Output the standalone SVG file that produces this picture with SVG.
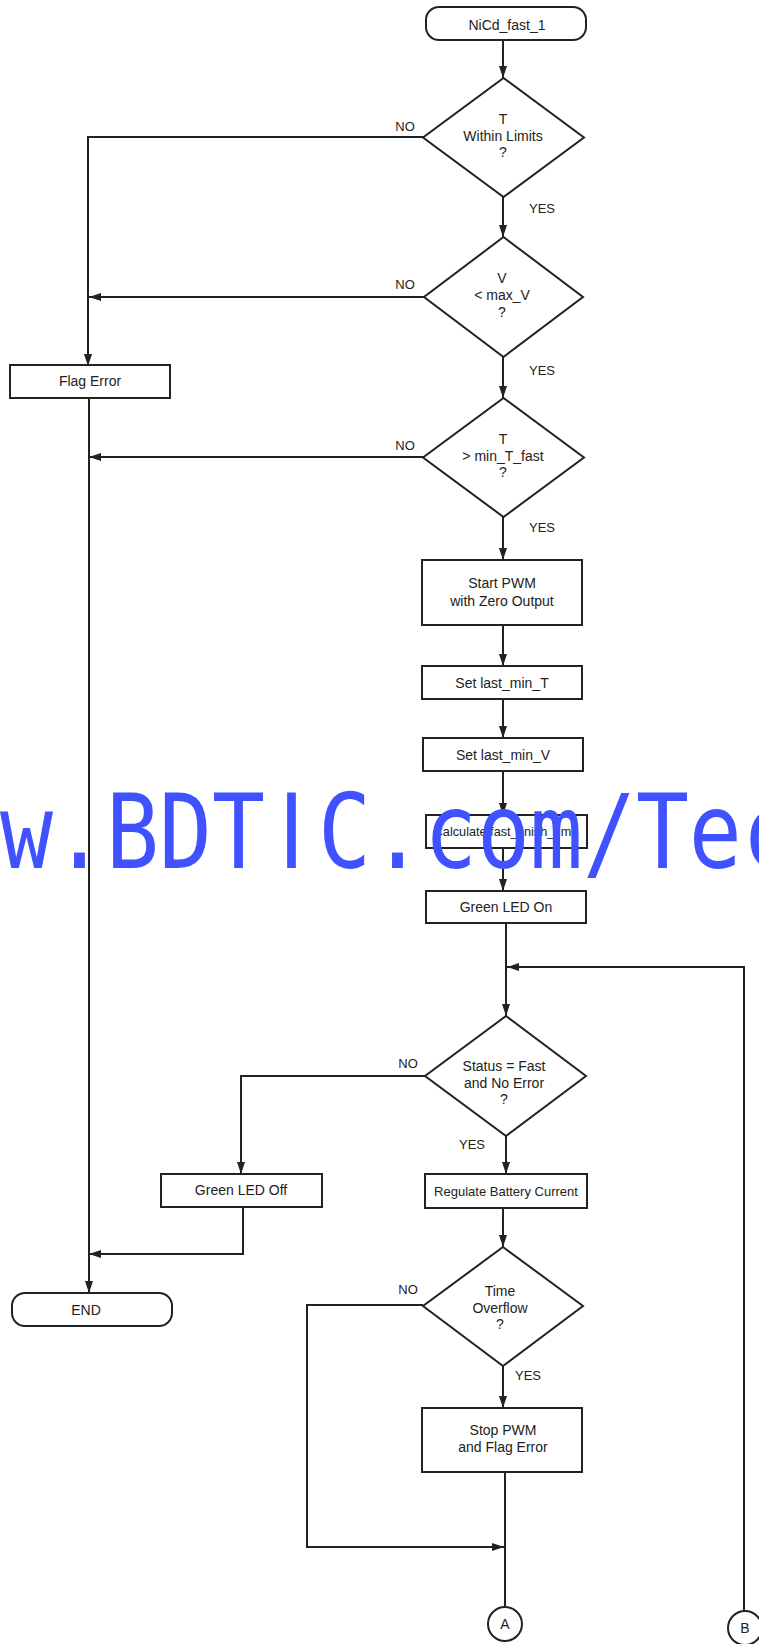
<svg xmlns="http://www.w3.org/2000/svg" width="759" height="1644" viewBox="0 0 759 1644">
<defs>
<marker id="ah" markerWidth="12" markerHeight="8" refX="12" refY="4" orient="auto" markerUnits="userSpaceOnUse">
<path d="M0,0 L12,4 L0,8 z" fill="#222"/>
</marker>
<style>
.n{fill:#fff;stroke:#222;stroke-width:2}
.c{fill:none;stroke:#222;stroke-width:2}
.t{font-family:"Liberation Sans",Arial,sans-serif;font-size:14px;fill:#222;text-anchor:middle}
.l{font-family:"Liberation Sans",Arial,sans-serif;font-size:13px;fill:#222;text-anchor:middle}
.wm{font-family:"DejaVu Sans Mono",monospace;font-size:104px;fill:#4052ff;text-anchor:middle}
</style>
</defs>
<rect width="759" height="1644" fill="#fff"/>

<g id="connectors">
<path class="c" d="M503,40 V78" marker-end="url(#ah)"/>
<path class="c" d="M503,197 V237" marker-end="url(#ah)"/>
<path class="c" d="M503,357 V398" marker-end="url(#ah)"/>
<path class="c" d="M503,517 V560" marker-end="url(#ah)"/>
<path class="c" d="M503,625 V666" marker-end="url(#ah)"/>
<path class="c" d="M503,699 V738" marker-end="url(#ah)"/>
<path class="c" d="M503,771 V815" marker-end="url(#ah)"/>
<path class="c" d="M503,848 V891" marker-end="url(#ah)"/>
<path class="c" d="M506,923 V1016" marker-end="url(#ah)"/>
<path class="c" d="M506,1136 V1174" marker-end="url(#ah)"/>
<path class="c" d="M503,1208 V1247" marker-end="url(#ah)"/>
<path class="c" d="M503,1366 V1408" marker-end="url(#ah)"/>
<path class="c" d="M505,1472 V1607"/>
<path class="c" d="M423,1305 H307 V1547 H504" marker-end="url(#ah)"/>
<path class="c" d="M425,1076 H241 V1174" marker-end="url(#ah)"/>
<path class="c" d="M243,1207 V1254 H89" marker-end="url(#ah)"/>
<path class="c" d="M89,398 V1293" marker-end="url(#ah)"/>
<path class="c" d="M424,137 H88 V366" marker-end="url(#ah)"/>
<path class="c" d="M424,297 H89" marker-end="url(#ah)"/>
<path class="c" d="M424,457 H89" marker-end="url(#ah)"/>
<path class="c" d="M744,1611 V967 H507" marker-end="url(#ah)"/>
<text class="l" x="405" y="131">NO</text>
<text class="l" x="542" y="213">YES</text>
<text class="l" x="405" y="289">NO</text>
<text class="l" x="542" y="375">YES</text>
<text class="l" x="405" y="450">NO</text>
<text class="l" x="542" y="532">YES</text>
<text class="l" x="408" y="1068">NO</text>
<text class="l" x="472" y="1149">YES</text>
<text class="l" x="408" y="1294">NO</text>
<text class="l" x="528" y="1380">YES</text>
</g>

<g id="start">
<rect class="n" x="426" y="7" width="160" height="33" rx="13"/>
<text class="t" x="507" y="30">NiCd_fast_1</text>
</g>
<g id="d1">
<polygon class="n" points="503.5,78 584,137.5 503.5,197 423,137.5"/>
<text class="t" x="503" y="124">T</text>
<text class="t" x="503" y="140.5">Within Limits</text>
<text class="t" x="503" y="157">?</text>
</g>
<g id="d2">
<polygon class="n" points="503.5,237 583,297 503.5,357 424,297"/>
<text class="t" x="502" y="283">V</text>
<text class="t" x="502" y="300">&lt; max_V</text>
<text class="t" x="502" y="317">?</text>
</g>
<g id="flag_error">
<rect class="n" x="10" y="365" width="160" height="33"/>
<text class="t" x="90" y="386">Flag Error</text>
</g>
<g id="d3">
<polygon class="n" points="503.5,398 584,457.5 503.5,517 423,457.5"/>
<text class="t" x="503" y="444">T</text>
<text class="t" x="503" y="460.5">&gt; min_T_fast</text>
<text class="t" x="503" y="477">?</text>
</g>
<g id="start_pwm">
<rect class="n" x="422" y="560" width="160" height="65"/>
<text class="t" x="502" y="588">Start PWM</text>
<text class="t" x="502" y="606">with Zero Output</text>
</g>
<g id="set_t">
<rect class="n" x="422" y="666" width="160" height="33"/>
<text class="t" x="502" y="688">Set last_min_T</text>
</g>
<g id="set_v">
<rect class="n" x="423" y="738" width="160" height="33"/>
<text class="t" x="503" y="760">Set last_min_V</text>
</g>
<g id="calc">
<rect class="n" x="426" y="815" width="161" height="33"/>
<text class="t" x="506" y="836" style="font-size:12.7px">Calculate fast_finish_time</text>
</g>
<g id="green_on">
<rect class="n" x="426" y="891" width="160" height="32"/>
<text class="t" x="506" y="912">Green LED On</text>
</g>
<g id="d4">
<polygon class="n" points="506,1016 586,1076 506,1136 425,1076"/>
<text class="t" x="504" y="1071">Status = Fast</text>
<text class="t" x="504" y="1088">and No Error</text>
<text class="t" x="504" y="1104">?</text>
</g>
<g id="green_off">
<rect class="n" x="161" y="1174" width="161" height="33"/>
<text class="t" x="241" y="1195">Green LED Off</text>
</g>
<g id="regulate">
<rect class="n" x="425" y="1174" width="162" height="34"/>
<text class="t" x="506" y="1196" style="font-size:13px">Regulate Battery Current</text>
</g>
<g id="end">
<rect class="n" x="12" y="1293" width="160" height="33" rx="13"/>
<text class="t" x="86" y="1315">END</text>
</g>
<g id="d5">
<polygon class="n" points="503,1247 583,1306 503,1366 423,1306"/>
<text class="t" x="500" y="1296">Time</text>
<text class="t" x="500" y="1313">Overflow</text>
<text class="t" x="500" y="1329">?</text>
</g>
<g id="stop_pwm">
<rect class="n" x="422" y="1408" width="160" height="64"/>
<text class="t" x="503" y="1435">Stop PWM</text>
<text class="t" x="503" y="1452">and Flag Error</text>
</g>
<g id="conn_a">
<circle class="n" cx="505" cy="1624" r="17"/>
<text class="t" x="505" y="1629">A</text>
</g>
<g id="conn_b">
<circle class="n" cx="745" cy="1628" r="17"/>
<text class="t" x="745" y="1633">B</text>
</g>

<g id="watermark">
<text class="wm" transform="translate(0,868) scale(0.847,1)" y="0" x="-93.9 -31.3 31.3 93.8 156.4 219.0 281.5 344.1 406.7 469.2 531.8 594.4 656.9 719.5 782.1 844.6 907.2">www.BDT<tspan style="font-family:'DejaVu Sans',sans-serif">I</tspan>C.com/Tec</text>
</g>
</svg>
